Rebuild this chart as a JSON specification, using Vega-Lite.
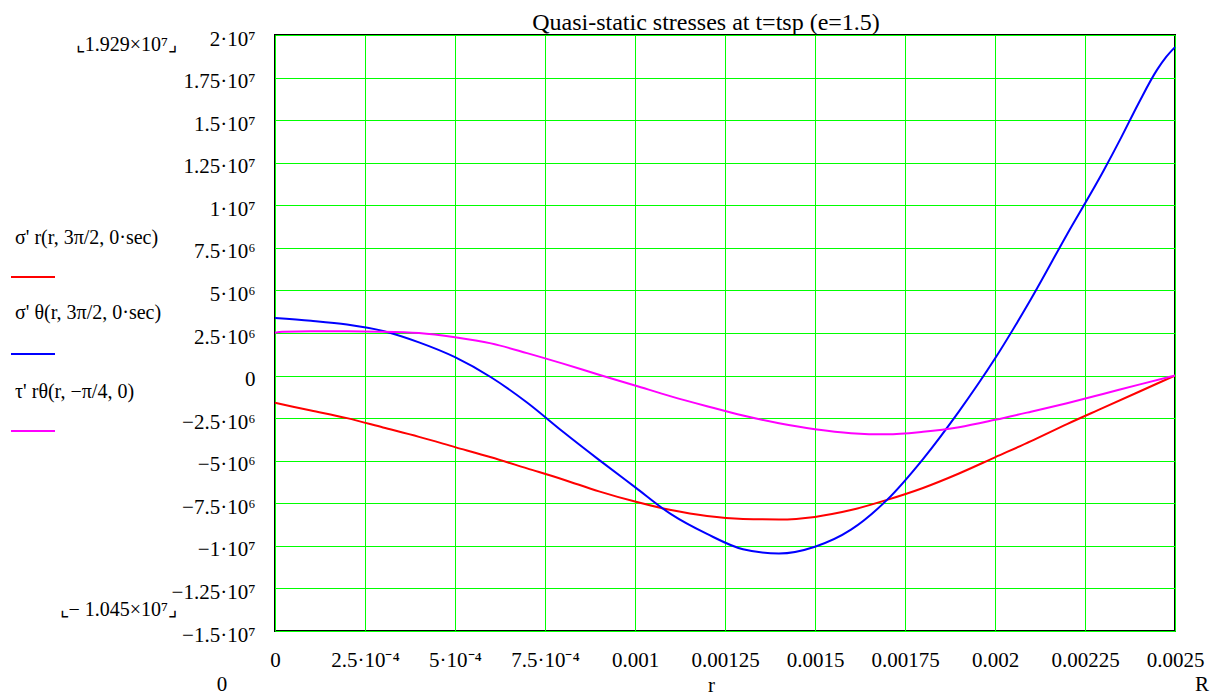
{
  "$schema": "https://vega.github.io/schema/vega-lite/v6.json",
  "width": 900,
  "height": 596,
  "autosize": {"type": "none"},
  "padding": {"left": 275, "top": 35, "right": 45, "bottom": 64},
  "background": "white",
  "title": {"text": "Quasi-static stresses at t=tsp (e=1.5)", "font": "Liberation Serif", "fontSize": 24, "fontWeight": "normal", "color": "black", "anchor": "middle", "dx": -19, "offset": -7},
  "config": {
    "view": {"stroke": "black", "strokeWidth": 2},
    "font": "Liberation Serif",
    "axis": {"gridColor": "#00ff00", "gridOpacity": 1, "gridWidth": 1, "ticks": false, "domain": false, "labelColor": "black", "labelFont": "Liberation Serif"},
    "axisX": {"gridColor": "#00ff00", "gridOpacity": 1},
    "axisY": {"gridColor": "#00ff00", "gridOpacity": 1}
  },
  "layer": [
    {
      "data": {"values": [
        {"series": "σ' r(r, 3π/2, 0·sec)", "r": 0.0, "value": -1600000},
        {"series": "σ' r(r, 3π/2, 0·sec)", "r": 0.0001, "value": -2050000},
        {"series": "σ' r(r, 3π/2, 0·sec)", "r": 0.0002, "value": -2500000},
        {"series": "σ' r(r, 3π/2, 0·sec)", "r": 0.0003, "value": -3050000},
        {"series": "σ' r(r, 3π/2, 0·sec)", "r": 0.0004, "value": -3600000},
        {"series": "σ' r(r, 3π/2, 0·sec)", "r": 0.0005, "value": -4200000},
        {"series": "σ' r(r, 3π/2, 0·sec)", "r": 0.0006, "value": -4800000},
        {"series": "σ' r(r, 3π/2, 0·sec)", "r": 0.0007, "value": -5450000},
        {"series": "σ' r(r, 3π/2, 0·sec)", "r": 0.0008, "value": -6100000},
        {"series": "σ' r(r, 3π/2, 0·sec)", "r": 0.0009, "value": -6800000},
        {"series": "σ' r(r, 3π/2, 0·sec)", "r": 0.0010, "value": -7400000},
        {"series": "σ' r(r, 3π/2, 0·sec)", "r": 0.0011, "value": -7900000},
        {"series": "σ' r(r, 3π/2, 0·sec)", "r": 0.0012, "value": -8250000},
        {"series": "σ' r(r, 3π/2, 0·sec)", "r": 0.0013, "value": -8420000},
        {"series": "σ' r(r, 3π/2, 0·sec)", "r": 0.0014, "value": -8450000},
        {"series": "σ' r(r, 3π/2, 0·sec)", "r": 0.0015, "value": -8300000},
        {"series": "σ' r(r, 3π/2, 0·sec)", "r": 0.0016, "value": -7900000},
        {"series": "σ' r(r, 3π/2, 0·sec)", "r": 0.0017, "value": -7300000},
        {"series": "σ' r(r, 3π/2, 0·sec)", "r": 0.0018, "value": -6600000},
        {"series": "σ' r(r, 3π/2, 0·sec)", "r": 0.0019, "value": -5750000},
        {"series": "σ' r(r, 3π/2, 0·sec)", "r": 0.0020, "value": -4800000},
        {"series": "σ' r(r, 3π/2, 0·sec)", "r": 0.0021, "value": -3850000},
        {"series": "σ' r(r, 3π/2, 0·sec)", "r": 0.0022, "value": -2850000},
        {"series": "σ' r(r, 3π/2, 0·sec)", "r": 0.0023, "value": -1900000},
        {"series": "σ' r(r, 3π/2, 0·sec)", "r": 0.0024, "value": -950000},
        {"series": "σ' r(r, 3π/2, 0·sec)", "r": 0.0025, "value": 0},
        {"series": "σ' θ(r, 3π/2, 0·sec)", "r": 0.0, "value": 3380000},
        {"series": "σ' θ(r, 3π/2, 0·sec)", "r": 0.0001, "value": 3220000},
        {"series": "σ' θ(r, 3π/2, 0·sec)", "r": 0.0002, "value": 3000000},
        {"series": "σ' θ(r, 3π/2, 0·sec)", "r": 0.0003, "value": 2620000},
        {"series": "σ' θ(r, 3π/2, 0·sec)", "r": 0.0004, "value": 1950000},
        {"series": "σ' θ(r, 3π/2, 0·sec)", "r": 0.0005, "value": 1080000},
        {"series": "σ' θ(r, 3π/2, 0·sec)", "r": 0.0006, "value": -100000},
        {"series": "σ' θ(r, 3π/2, 0·sec)", "r": 0.0007, "value": -1580000},
        {"series": "σ' θ(r, 3π/2, 0·sec)", "r": 0.0008, "value": -3300000},
        {"series": "σ' θ(r, 3π/2, 0·sec)", "r": 0.0009, "value": -4950000},
        {"series": "σ' θ(r, 3π/2, 0·sec)", "r": 0.0010, "value": -6550000},
        {"series": "σ' θ(r, 3π/2, 0·sec)", "r": 0.0011, "value": -8140000},
        {"series": "σ' θ(r, 3π/2, 0·sec)", "r": 0.0012, "value": -9300000},
        {"series": "σ' θ(r, 3π/2, 0·sec)", "r": 0.0013, "value": -10200000},
        {"series": "σ' θ(r, 3π/2, 0·sec)", "r": 0.0014, "value": -10450000},
        {"series": "σ' θ(r, 3π/2, 0·sec)", "r": 0.0015, "value": -10050000},
        {"series": "σ' θ(r, 3π/2, 0·sec)", "r": 0.0016, "value": -9050000},
        {"series": "σ' θ(r, 3π/2, 0·sec)", "r": 0.0017, "value": -7300000},
        {"series": "σ' θ(r, 3π/2, 0·sec)", "r": 0.0018, "value": -4900000},
        {"series": "σ' θ(r, 3π/2, 0·sec)", "r": 0.0019, "value": -2100000},
        {"series": "σ' θ(r, 3π/2, 0·sec)", "r": 0.0020, "value": 1000000},
        {"series": "σ' θ(r, 3π/2, 0·sec)", "r": 0.0021, "value": 4500000},
        {"series": "σ' θ(r, 3π/2, 0·sec)", "r": 0.0022, "value": 8290000},
        {"series": "σ' θ(r, 3π/2, 0·sec)", "r": 0.0023, "value": 11970000},
        {"series": "σ' θ(r, 3π/2, 0·sec)", "r": 0.00235, "value": 13960000},
        {"series": "σ' θ(r, 3π/2, 0·sec)", "r": 0.0024, "value": 16040000},
        {"series": "σ' θ(r, 3π/2, 0·sec)", "r": 0.00245, "value": 17950000},
        {"series": "σ' θ(r, 3π/2, 0·sec)", "r": 0.002475, "value": 18700000},
        {"series": "σ' θ(r, 3π/2, 0·sec)", "r": 0.0025, "value": 19290000},
        {"series": "τ' rθ(r, −π/4, 0)", "r": 0.0, "value": 2520000},
        {"series": "τ' rθ(r, −π/4, 0)", "r": 0.00002, "value": 2570000},
        {"series": "τ' rθ(r, −π/4, 0)", "r": 0.0001, "value": 2600000},
        {"series": "τ' rθ(r, −π/4, 0)", "r": 0.0002, "value": 2600000},
        {"series": "τ' rθ(r, −π/4, 0)", "r": 0.0003, "value": 2580000},
        {"series": "τ' rθ(r, −π/4, 0)", "r": 0.0004, "value": 2500000},
        {"series": "τ' rθ(r, −π/4, 0)", "r": 0.0005, "value": 2250000},
        {"series": "τ' rθ(r, −π/4, 0)", "r": 0.0006, "value": 1890000},
        {"series": "τ' rθ(r, −π/4, 0)", "r": 0.0007, "value": 1320000},
        {"series": "τ' rθ(r, −π/4, 0)", "r": 0.0008, "value": 700000},
        {"series": "τ' rθ(r, −π/4, 0)", "r": 0.0009, "value": 50000},
        {"series": "τ' rθ(r, −π/4, 0)", "r": 0.0010, "value": -580000},
        {"series": "τ' rθ(r, −π/4, 0)", "r": 0.0011, "value": -1220000},
        {"series": "τ' rθ(r, −π/4, 0)", "r": 0.0012, "value": -1800000},
        {"series": "τ' rθ(r, −π/4, 0)", "r": 0.0013, "value": -2350000},
        {"series": "τ' rθ(r, −π/4, 0)", "r": 0.0014, "value": -2800000},
        {"series": "τ' rθ(r, −π/4, 0)", "r": 0.0015, "value": -3150000},
        {"series": "τ' rθ(r, −π/4, 0)", "r": 0.0016, "value": -3380000},
        {"series": "τ' rθ(r, −π/4, 0)", "r": 0.0017, "value": -3450000},
        {"series": "τ' rθ(r, −π/4, 0)", "r": 0.0018, "value": -3300000},
        {"series": "τ' rθ(r, −π/4, 0)", "r": 0.0019, "value": -3030000},
        {"series": "τ' rθ(r, −π/4, 0)", "r": 0.0020, "value": -2600000},
        {"series": "τ' rθ(r, −π/4, 0)", "r": 0.0021, "value": -2120000},
        {"series": "τ' rθ(r, −π/4, 0)", "r": 0.0022, "value": -1620000},
        {"series": "τ' rθ(r, −π/4, 0)", "r": 0.0023, "value": -1080000},
        {"series": "τ' rθ(r, −π/4, 0)", "r": 0.0024, "value": -530000},
        {"series": "τ' rθ(r, −π/4, 0)", "r": 0.0025, "value": 0}
      ]},
      "mark": {"type": "line", "strokeWidth": 2, "interpolate": "monotone"},
      "encoding": {
        "x": {
          "field": "r", "type": "quantitative",
          "scale": {"domain": [0, 0.0025], "nice": false, "zero": false},
          "axis": {
            "values": [0, 0.00025, 0.0005, 0.00075, 0.001, 0.00125, 0.0015, 0.00175, 0.002, 0.00225, 0.0025],
            "labelExpr": "datum.value == 0 ? '0' : (datum.value < 0.0009 ? format(datum.value * 10000, '~g') + '·10⁻⁴' : format(datum.value, '~g'))",
            "grid": true, "gridColor": "#00ff00", "gridOpacity": 1,
            "labelFontSize": 21,
            "labelPadding": 18, "labelFlush": false, "labelOverlap": false,
            "title": "r", "titleFont": "Liberation Serif", "titleFontSize": 21, "titleFontWeight": "normal", "titleColor": "black",
            "titleX": 436, "titleY": 54, "titleBaseline": "middle"
          }
        },
        "y": {
          "field": "value", "type": "quantitative",
          "scale": {"domain": [-15000000, 20000000], "nice": false, "zero": false},
          "axis": {
            "values": [-15000000, -12500000, -10000000, -7500000, -5000000, -2500000, 0, 2500000, 5000000, 7500000, 10000000, 12500000, 15000000, 17500000, 20000000],
            "labelExpr": "datum.value == 0 ? '0' : (datum.value < 0 ? '−' : '') + (abs(datum.value) >= 10000000 ? format(abs(datum.value) / 10000000, '~g') + '·10⁷' : format(abs(datum.value) / 1000000, '~g') + '·10⁶')",
            "grid": true, "gridColor": "#00ff00", "gridOpacity": 1,
            "labelFontSize": 21,
            "labelPadding": 20, "labelOffset": 4, "labelOverlap": false, "labelFlush": false,
            "title": null
          }
        },
        "color": {
          "field": "series", "type": "nominal",
          "scale": {"domain": ["σ' r(r, 3π/2, 0·sec)", "σ' θ(r, 3π/2, 0·sec)", "τ' rθ(r, −π/4, 0)"], "range": ["#ff0000", "#0000ff", "#ff00ff"]},
          "legend": {
            "orient": "none", "legendX": -265, "legendY": 219, "title": null,
            "symbolType": "stroke", "symbolSize": 1936, "symbolStrokeWidth": 2,
            "labelExpr": "''", "labelOffset": 0, "labelLimit": 1,
            "rowPadding": 49, "padding": 0
          }
        }
      }
    },
    {
      "data": {"values": [{}]},
      "mark": {"type": "text", "font": "Liberation Serif", "fontSize": 20, "color": "black", "align": "left", "baseline": "middle"},
      "encoding": {"x": {"datum": -0.000722, "type": "quantitative"}, "y": {"datum": 8079000, "type": "quantitative"}, "text": {"value": "σ' r(r, 3π/2, 0·sec)"}}
    },
    {
      "data": {"values": [{}]},
      "mark": {"type": "text", "font": "Liberation Serif", "fontSize": 20, "color": "black", "align": "left", "baseline": "middle"},
      "encoding": {"x": {"datum": -0.000722, "type": "quantitative"}, "y": {"datum": 3674000, "type": "quantitative"}, "text": {"value": "σ' θ(r, 3π/2, 0·sec)"}}
    },
    {
      "data": {"values": [{}]},
      "mark": {"type": "text", "font": "Liberation Serif", "fontSize": 20, "color": "black", "align": "left", "baseline": "middle"},
      "encoding": {"x": {"datum": -0.000722, "type": "quantitative"}, "y": {"datum": -965000, "type": "quantitative"}, "text": {"value": "τ' rθ(r, −π/4, 0)"}}
    },
    {
      "data": {"values": [{}]},
      "mark": {"type": "text", "font": "Liberation Serif", "fontSize": 20, "color": "black", "align": "right", "baseline": "middle"},
      "encoding": {"x": {"datum": -0.000272, "type": "quantitative"}, "y": {"datum": 19410000, "type": "quantitative"}, "text": {"value": "⌞1.929×10⁷⌟"}}
    },
    {
      "data": {"values": [{}]},
      "mark": {"type": "text", "font": "Liberation Serif", "fontSize": 20, "color": "black", "align": "right", "baseline": "middle"},
      "encoding": {"x": {"datum": -0.000272, "type": "quantitative"}, "y": {"datum": -13770000, "type": "quantitative"}, "text": {"value": "⌞− 1.045×10⁷⌟"}}
    },
    {
      "data": {"values": [{}]},
      "mark": {"type": "text", "font": "Liberation Serif", "fontSize": 21, "color": "black", "align": "center", "baseline": "middle"},
      "encoding": {"x": {"datum": -0.000147, "type": "quantitative"}, "y": {"datum": -18170000, "type": "quantitative"}, "text": {"value": "0"}}
    },
    {
      "data": {"values": [{}]},
      "mark": {"type": "text", "font": "Liberation Serif", "fontSize": 21, "color": "black", "align": "center", "baseline": "middle"},
      "encoding": {"x": {"datum": 0.002575, "type": "quantitative"}, "y": {"datum": -18170000, "type": "quantitative"}, "text": {"value": "R"}}
    }
  ]
}
